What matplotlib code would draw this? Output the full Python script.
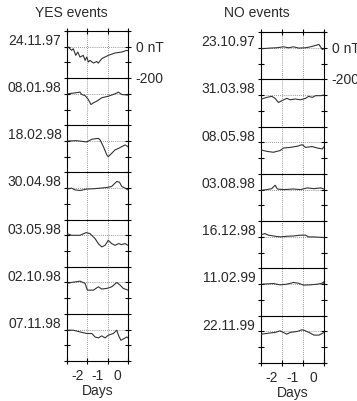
import matplotlib
matplotlib.use("Agg")
import matplotlib.pyplot as plt

plt.rcParams['font.family'] = ['Liberation Sans', 'DejaVu Sans']
plt.rcParams['font.size'] = 10

# event dates, top to bottom
yes_dates = ["24.11.97", "08.01.98", "18.02.98", "30.04.98", "03.05.98", "02.10.98", "07.11.98"]
no_dates = ["23.10.97", "31.03.98", "08.05.98", "03.08.98", "16.12.98", "11.02.99", "22.11.99"]

# YES events: days and Dst (nT)
yes_t1 = [-2.5, -2.44, -2.27, -2.19, -2.07, -1.97, -1.86, -1.70, -1.61, -1.53, -1.45, -1.37, -1.20, -1.04, -0.96, -0.79, -0.47, -0.14, 0.19, 0.44, 0.5]
yes_b1 = [0, -2, -23, -13, -55, -34, -66, -55, -87, -66, -97, -87, -104, -94, -104, -76, -55, -40, -34, -23, -25]
yes_t2 = [-2.5, -2.11, -1.86, -1.78, -1.61, -1.45, -1.32, -1.20, -1.04, -0.79, -0.47, -0.14, 0.03, 0.19, 0.5]
yes_b2 = [0, 6, 11, -4, -11, -36, -68, -57, -47, -25, -15, 0, 11, -4, -8]
yes_t3 = [-2.5, -2.02, -1.53, -1.28, -0.96, -0.87, -0.71, -0.54, -0.47, -0.30, -0.14, 0.03, 0.19, 0.36, 0.5]
yes_b3 = [0, 2, -6, 11, 17, 6, -36, -89, -100, -78, -57, -47, -36, -25, -36]
yes_t4 = [-2.5, -2.27, -2.11, -1.86, -1.53, -1.20, -0.87, -0.54, -0.30, -0.14, -0.05, 0.08, 0.19, 0.36, 0.5]
yes_b4 = [-6, 0, -11, -15, -6, -4, 0, 4, 11, 32, 42, 38, 11, 0, -11]
yes_t5 = [-2.5, -2.27, -1.86, -1.56, -1.37, -1.20, -1.12, -0.96, -0.79, -0.63, -0.47, -0.30, -0.14, 0.03, 0.19, 0.36, 0.5]
yes_b5 = [11, 0, 0, 17, 11, -11, -21, -53, -74, -64, -32, -53, -64, -53, -59, -53, -64]
yes_t6 = [-2.5, -2.27, -1.86, -1.61, -1.50, -1.20, -0.96, -0.79, -0.54, -0.30, -0.05, 0.11, 0.27, 0.5]
yes_b6 = [-6, 0, 8, -6, -49, -49, -28, -42, -38, -28, 0, -17, -38, -49]
yes_t7 = [-2.5, -2.19, -1.86, -1.53, -1.28, -1.12, -0.96, -0.79, -0.63, -0.47, -0.22, -0.05, 0.03, 0.15, 0.31, 0.44, 0.5]
yes_b7 = [-4, -4, -15, -25, -25, -47, -53, -40, -53, -36, -25, -4, -36, -68, -57, -47, -53]

# NO events
no_t1 = [-2.47, -2.07, -1.75, -1.43, -1.19, -0.95, -0.71, -0.38, -0.14, 0.10, 0.26, 0.42, 0.5]
no_b1 = [-6, -2, 0, 6, 0, 6, -2, 0, 6, 15, 21, -11, -6]
no_t2 = [-2.47, -2.23, -1.99, -1.83, -1.67, -1.51, -1.27, -1.11, -0.87, -0.63, -0.38, -0.23, -0.06, 0.10, 0.34, 0.5]
no_b2 = [-25, -15, -8, -21, -47, -36, -21, -30, -25, -30, -21, -8, -15, -4, -4, 0]
no_t3 = [-2.47, -2.23, -1.91, -1.59, -1.43, -1.11, -0.78, -0.54, -0.38, -0.06, 0.18, 0.42, 0.5]
no_b3 = [-49, -57, -63, -52, -36, -32, -25, -15, -32, -27, -36, -42, -27]
no_t4 = [-2.47, -2.23, -1.99, -1.83, -1.72, -1.43, -0.95, -0.63, -0.30, 0.02, 0.34, 0.5]
no_b4 = [-4, 0, 6, 28, 4, 0, 4, 0, 11, 6, 11, 4]
no_t5 = [-2.47, -2.31, -2.15, -1.91, -1.59, -1.27, -0.95, -0.63, -0.38, -0.23, 0.02, 0.5]
no_b5 = [15, 21, 11, 6, 0, 4, 6, 11, 11, 0, 0, -4]
no_t6 = [-2.47, -1.91, -1.59, -1.27, -0.95, -0.71, -0.47, -0.14, 0.18, 0.42, 0.48, 0.5]
no_b6 = [0, 4, -4, 0, 11, 6, -6, -4, 0, 6, 15, 0]
no_t7 = [-2.47, -2.15, -1.83, -1.59, -1.27, -1.11, -0.78, -0.54, -0.38, -0.14, 0.02, 0.26, 0.5]
no_b7 = [-17, -11, -6, 4, -17, -6, 0, 11, 4, -11, -23, -23, -6]

yes_t = [yes_t1, yes_t2, yes_t3, yes_t4, yes_t5, yes_t6, yes_t7]
yes_b = [yes_b1, yes_b2, yes_b3, yes_b4, yes_b5, yes_b6, yes_b7]
no_t = [no_t1, no_t2, no_t3, no_t4, no_t5, no_t6, no_t7]
no_b = [no_b1, no_b2, no_b3, no_b4, no_b5, no_b6, no_b7]

day_labels = ["-2", "-1", "0"]
day_pos = [-2, -1, 0]

step = 300  # each strip spans +100 .. -200 nT
text_col = '#2a2a2a'

fig = plt.figure(figsize=(3.57, 4.02), dpi=100)


def panel(rect, dates, ts, bs, title, title_x):
    ax = fig.add_axes(rect)
    n = len(dates)
    ax.set_xlim(-2.5, 0.5)
    ax.set_ylim(-step * (n - 1) - 200, 100)

    for i in range(n):
        off = -step * i
        ax.axhline(off, color='#777777', lw=0.6, ls=(0, (1, 1.5)), zorder=1)
        if i > 0:
            ax.axhline(off + 100, color='black', lw=0.8, zorder=2)
        ax.plot(ts[i], [b + off for b in bs[i]], color='#333333', lw=0.8, zorder=3)
        ax.annotate(dates[i], xy=(0, off), xycoords=('axes fraction', 'data'),
                    xytext=(-4, 2), textcoords='offset points',
                    ha='right', va='baseline', color=text_col)

    for xv in [-1.5, -0.5]:
        ax.axvline(xv, color='#777777', lw=0.6, ls=(0, (1, 1.5)), zorder=1)

    ax.set_xticks(day_pos)
    ax.set_xticklabels(day_labels, color=text_col)
    ax.set_xticks([-2.5, -1.5, -0.5, 0.5], minor=True)
    ax.tick_params(axis='x', which='major', length=0, pad=5)
    ax.tick_params(axis='x', which='minor', direction='inout', length=5,
                   width=0.8, top=True, bottom=True)
    ax.set_yticks(range(-step * (n - 1) - 200, 101, 100))
    ax.set_yticklabels([])
    ax.tick_params(axis='y', direction='inout', length=5, width=0.8,
                   left=True, right=True)
    for s in ax.spines.values():
        s.set_linewidth(0.8)

    ax.set_xlabel("Days", color=text_col, labelpad=1)

    # scale labels for the first strip
    ax.annotate("0 nT", xy=(1, 0), xycoords=('axes fraction', 'data'),
                xytext=(6, 0), textcoords='offset points',
                ha='left', va='center', color=text_col)
    ax.annotate("-200", xy=(1, -200), xycoords=('axes fraction', 'data'),
                xytext=(5, 0), textcoords='offset points',
                ha='left', va='center', color=text_col)

    fig.text(title_x, 0.968, title, ha='center', va='center', color=text_col)
    return ax


panel([67 / 357, 1 - 362 / 402, 61 / 357, 330 / 402], yes_dates, yes_t, yes_b, "YES events", 71 / 357)
panel([261 / 357, 1 - 364 / 402, 63 / 357, 331 / 402], no_dates, no_t, no_b, "NO events", 257 / 357)

fig.savefig("out.png", dpi=100)
